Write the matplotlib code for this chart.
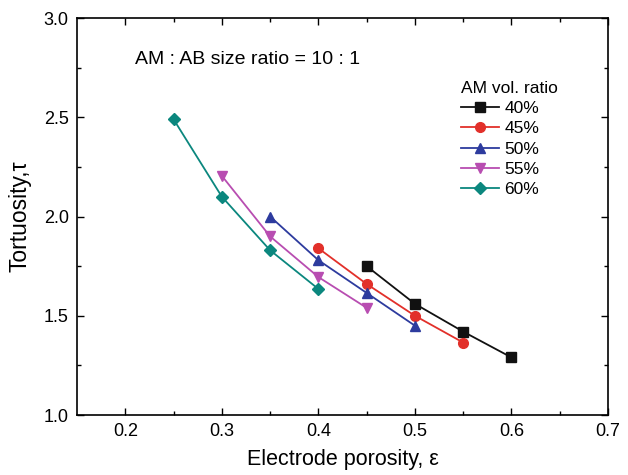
import matplotlib.pyplot as plt

plt.rcParams['font.family'] = ['Liberation Sans', 'DejaVu Sans']

labels = ['40%', '45%', '50%', '55%', '60%']
colors = ['#111111', '#e2302a', '#2d3b9e', '#b84db1', '#0b877e']
markers = ['s', 'o', '^', 'v', 'D']

por_40 = [0.45, 0.50, 0.55, 0.60]
tau_40 = [1.75, 1.56, 1.42, 1.29]
por_45 = [0.40, 0.45, 0.50, 0.55]
tau_45 = [1.84, 1.66, 1.50, 1.365]
por_50 = [0.35, 0.40, 0.45, 0.50]
tau_50 = [2.00, 1.78, 1.615, 1.45]
por_55 = [0.30, 0.35, 0.40, 0.45]
tau_55 = [2.205, 1.90, 1.695, 1.54]
por_60 = [0.25, 0.30, 0.35, 0.40]
tau_60 = [2.49, 2.10, 1.83, 1.635]

series = [(por_40, tau_40), (por_45, tau_45), (por_50, tau_50),
          (por_55, tau_55), (por_60, tau_60)]

fig = plt.figure(figsize=(6.28, 4.75), dpi=100)
ax = fig.add_axes([0.1226, 0.1263, 0.8456, 0.8358])

for (x, y), lab, c, m in zip(series, labels, colors, markers):
    ms = 6 if m == 'D' else 7
    ax.plot(x, y, color=c, marker=m, markersize=ms, linewidth=1.3, label=lab)

ax.set_xlim(0.15, 0.7)
ax.set_ylim(1.0, 3.0)
ax.set_xticks([0.2, 0.3, 0.4, 0.5, 0.6, 0.7])
ax.set_xticks([0.25, 0.35, 0.45, 0.55, 0.65], minor=True)
ax.set_yticks([1.0, 1.5, 2.0, 2.5, 3.0])
ax.set_yticks([1.25, 1.75, 2.25, 2.75], minor=True)
ax.tick_params(which='both', direction='in', top=True, right=True, labelsize=13)
ax.tick_params(which='major', length=5, width=1, pad=6)
ax.tick_params(which='minor', length=3, width=1)
for s in ax.spines.values():
    s.set_linewidth(1.2)

ax.set_xlabel('Electrode porosity, ε', fontsize=15.5, labelpad=6)
ax.set_ylabel('Tortuosity,τ', fontsize=16.5, labelpad=9)

ax.text(0.11, 0.895, 'AM : AB size ratio = 10 : 1', transform=ax.transAxes,
        fontsize=14, va='center')

leg = ax.legend(loc='upper left', bbox_to_anchor=(0.71, 0.86), frameon=False,
                title='AM vol. ratio', fontsize=12.5, title_fontsize=12.5,
                handlelength=2.2, labelspacing=0.3, handletextpad=0.3,
                alignment='left', borderaxespad=0)

fig.savefig('out.png', dpi=100)
